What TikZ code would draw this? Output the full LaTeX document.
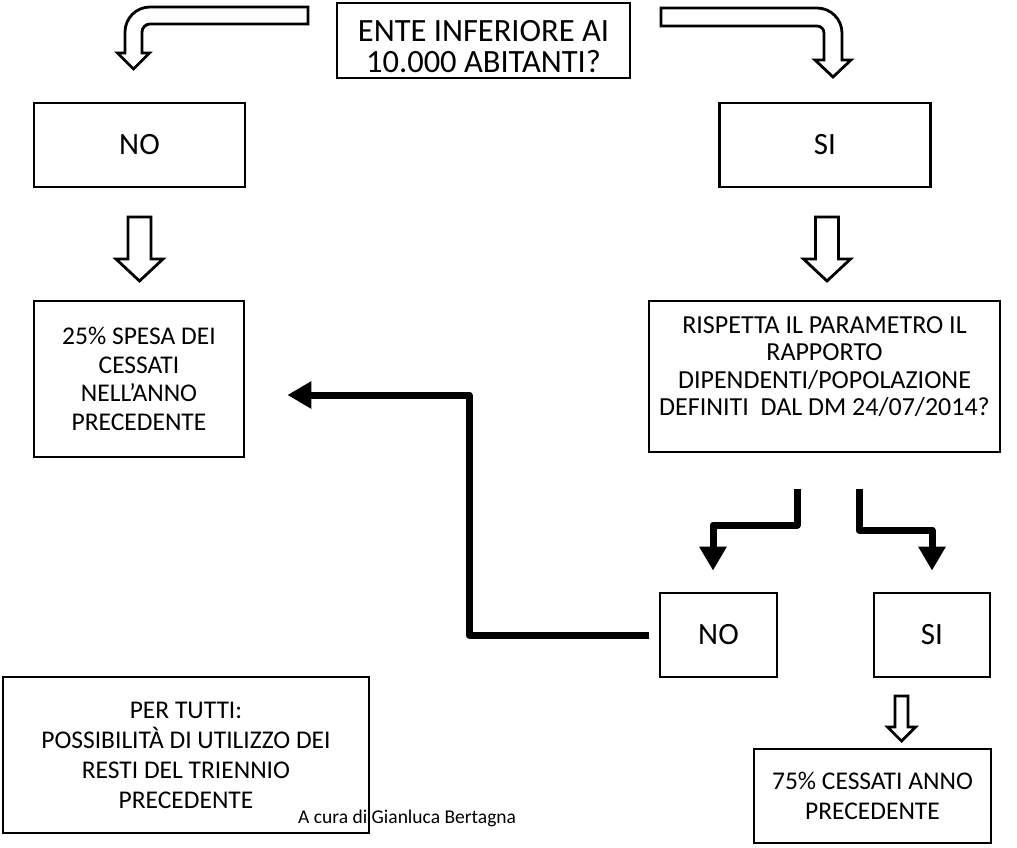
\documentclass[tikz,border=0pt]{standalone}
\usepackage{fontspec}
\setmainfont{Carlito}
\usetikzlibrary{arrows.meta,calc}
\begin{document}
\begin{tikzpicture}[x=1pt,y=-1pt,
  box/.style={draw=black,line width=2.8pt,inner sep=0pt,align=center,text=black},
  hollow/.style={draw=black,line width=2.8pt,fill=white,line join=miter},
  blk/.style={draw=black,line width=7pt,line join=round,-{Triangle[length=24pt,width=26pt]}},
  big/.style={font=\fontsize{31}{36}\selectfont}]
\useasboundingbox (0,0) rectangle (1017,847);

% boxes
\node[box,minimum width=293pt,minimum height=75pt] (top) at (483.5,40.5) {};
\node[align=center,inner sep=0pt,font=\fontsize{32.5}{31}\selectfont] (toptext) at ([yshift=-6pt]top.center) {ENTE INFERIORE AI\\10.000 ABITANTI?};
\node[box,big,minimum width=211pt,minimum height=84pt] (noL) at (139.5,145) {NO};
\node[box,big,minimum width=211pt,minimum height=84pt] (siR) at (825,145) {SI};
\node[box,font=\fontsize{25.5}{28.7}\selectfont,minimum width=210pt,minimum height=156pt] (b25) at (139,379) {25\% SPESA DEI\\CESSATI\\NELL’ANNO\\PRECEDENTE};
\node[box,minimum width=351pt,minimum height=151pt] (risp) at (824.5,376.5) {};
\node[align=center,inner sep=0pt,font=\fontsize{26}{27.5}\selectfont] (risptext) at ([yshift=10pt]risp.center) {RISPETTA IL PARAMETRO IL\\RAPPORTO\\DIPENDENTI/POPOLAZIONE\\DEFINITI\ \ DAL DM 24/07/2014?};
\node[box,big,minimum width=117pt,minimum height=84pt] (no2) at (718.5,635) {NO};
\node[box,big,minimum width=116pt,minimum height=84pt] (si2) at (932,635) {SI};
\node[box,font=\fontsize{25.5}{30}\selectfont,minimum width=237pt,minimum height=94pt] (b75) at (872.5,796) {75\% CESSATI ANNO\\PRECEDENTE};
\node[box,font=\fontsize{25.5}{30}\selectfont,minimum width=366pt,minimum height=156pt] (per) at (186,755) {PER TUTTI:\\POSSIBILITÀ DI UTILIZZO DEI\\RESTI DEL TRIENNIO\\PRECEDENTE};
\node[anchor=base west,inner sep=0pt,font=\fontsize{19.5}{23}\selectfont] (author) at (298,823) {A cura di Gianluca Bertagna};

% top bent hollow arrows
\draw[hollow] (308,7) -- (150,7) .. controls (136.2,7) and (125,18.2) .. (125,32)
  -- (125,53) -- (117.5,53) -- (133.5,69) -- (149.5,53) -- (142,53) -- (142,32)
  .. controls (142,27.6) and (145.6,24) .. (150,24) -- (308,24) -- cycle;
\draw[hollow] (661,8) -- (817,8) .. controls (830.8,8) and (842,19.2) .. (842,33)
  -- (842,60) -- (851,60) -- (833,77) -- (815,60) -- (824,60) -- (824,33)
  .. controls (824,29.1) and (820.9,26) .. (817,26) -- (661,26) -- cycle;

% straight hollow arrows
\draw[hollow] (128,217) -- (151,217) -- (151,259) -- (163,259) -- (139.5,281) -- (116,259) -- (128,259) -- cycle;
\draw[hollow] (815.5,217) -- (838.5,217) -- (838.5,259) -- (850.5,259) -- (827,281) -- (803.5,259) -- (815.5,259) -- cycle;
\draw[hollow] (895,696) -- (908,696) -- (908,727) -- (915.5,727) -- (901.5,741) -- (887.5,727) -- (895,727) -- cycle;

% black arrows
\coordinate (s1) at (797,489);
\coordinate (s2) at (859,489);
\draw[blk] (s1) -- (797,525) -- (713,525) -- ([xshift=-5.5pt,yshift=21pt]no2.north);
\draw[blk] (s2) -- (859,530) -- (932,530) -- ([yshift=21pt]si2.north);
\draw[blk,shorten <=10pt] (no2.west) -| (469,395) -- ([xshift=42pt,yshift=-16pt]b25.east);
\end{tikzpicture}
\end{document}
